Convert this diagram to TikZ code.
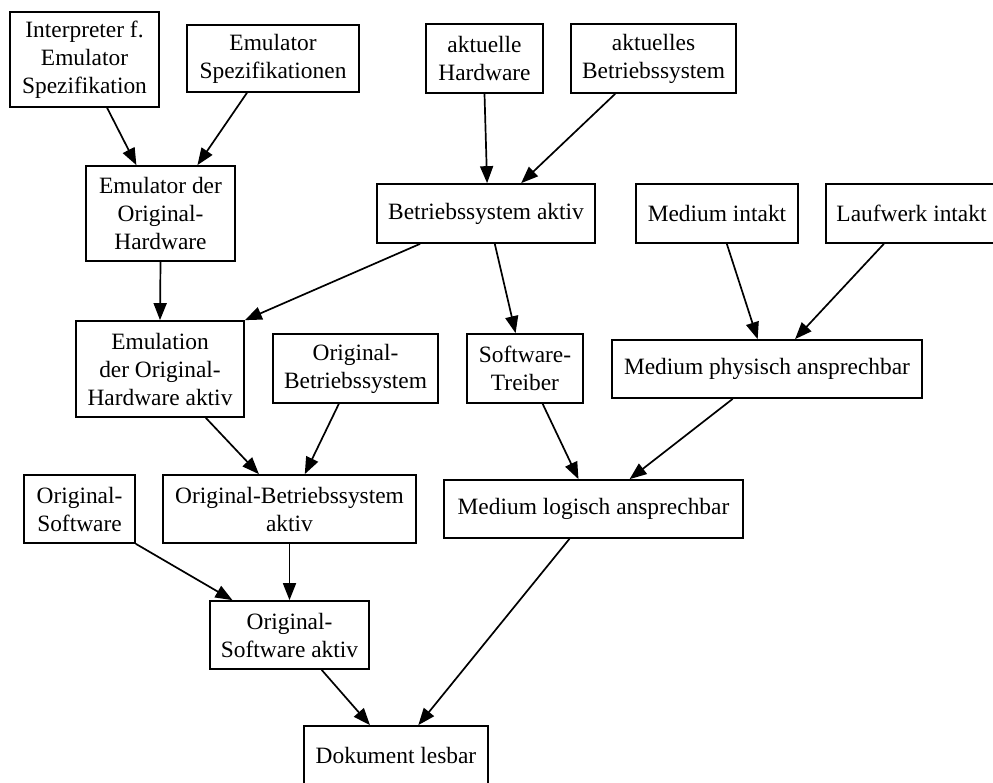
\documentclass[tikz,border=0pt]{standalone}
\usepackage{fontspec}
\setmainfont{Liberation Serif}
\usetikzlibrary{calc,arrows.meta}
\newcommand\nbot[2]{($(#1.south west)!#2!(#1.south east)$)}
\newcommand\ntop[2]{($(#1.north west)!#2!(#1.north east)$)}
\begin{document}
\begin{tikzpicture}[x=1pt,y=-1pt,
  box/.style={draw, line width=1.7pt, inner sep=0pt, align=center,
    font=\fontsize{23.4}{28}\selectfont},
  arr/.style={line width=1.7pt, -{Triangle[length=17pt,width=13pt]}}]
\useasboundingbox (0,0) rectangle (993,782);
\newcommand\bx[6]{\node[box, minimum width=#4pt, minimum height=#5pt] (#1) at (#2,#3) {#6};}
% row 1
\bx{interp}{84.5}{59.5}{149}{95}{Interpreter f.\\Emulator\\Spezifikation}
\bx{emuspec}{273}{58.5}{172}{67}{Emulator\\Spezifikationen}
\bx{akthw}{484.5}{58.5}{117}{69}{aktuelle\\Hardware}
\bx{aktbs}{653.5}{58.5}{165}{69}{aktuelles\\Betriebssystem}
% row 2
\bx{emuorig}{160.5}{213.5}{149}{95}{Emulator der\\Original-\\Hardware}
\bx{bsaktiv}{486}{213.5}{218}{59}{Betriebssystem aktiv}
\bx{medint}{717}{213.5}{162}{59}{Medium intakt}
\bx{laufw}{911.5}{213.5}{171}{59}{Laufwerk intakt}
% row 3
\bx{emulation}{160}{369}{168}{96}{Emulation\\der Original-\\Hardware aktiv}
\bx{origbs}{355.5}{368.5}{165}{69}{Original-\\Betriebssystem}
\bx{swtreiber}{525}{368.5}{116}{69}{Software-\\Treiber}
\bx{medphys}{767}{369}{310}{58}{Medium physisch ansprechbar}
% row 4
\bx{origsw}{79.5}{509}{111}{68}{Original-\\Software}
\bx{origbsaktiv}{289.5}{509}{253}{68}{Original-Betriebssystem\\aktiv}
\bx{medlog}{593.5}{509}{299}{58}{Medium logisch ansprechbar}
% row 5
\bx{origswaktiv}{289.5}{635}{159}{68}{Original-\\Software aktiv}
\bx{dok}{396}{755}{184}{58}{Dokument lesbar}
% edges
\draw[arr] \nbot{interp}{0.65} -- \ntop{emuorig}{0.34};
\draw[arr] \nbot{emuspec}{0.35} -- \ntop{emuorig}{0.745};
\draw[arr] (akthw.south) -- \ntop{bsaktiv}{0.505};
\draw[arr] \nbot{aktbs}{0.27} -- \ntop{bsaktiv}{0.66};
\draw[arr] \nbot{bsaktiv}{0.2} -- (emulation.north east);
\draw[arr] \nbot{bsaktiv}{0.54} -- \ntop{swtreiber}{0.42};
\draw[arr] (emuorig.south) -- (emulation.north);
\draw[arr] \nbot{medint}{0.56} -- \ntop{medphys}{0.47};
\draw[arr] \nbot{laufw}{0.34} -- \ntop{medphys}{0.59};
\draw[arr] \nbot{emulation}{0.77} -- \ntop{origbsaktiv}{0.38};
\draw[arr] \nbot{origbs}{0.4} -- \ntop{origbsaktiv}{0.56};
\draw[arr] \nbot{swtreiber}{0.65} -- \ntop{medlog}{0.45};
\draw[arr] \nbot{medphys}{0.39} -- \ntop{medlog}{0.62};
\draw[arr] (origsw.south east) -- \ntop{origswaktiv}{0.145};
\draw[arr] (origbsaktiv.south) -- (origswaktiv.north);
\draw[arr] \nbot{origswaktiv}{0.7} -- \ntop{dok}{0.36};
\draw[arr] \nbot{medlog}{0.42} -- \ntop{dok}{0.62};
\end{tikzpicture}
\end{document}
